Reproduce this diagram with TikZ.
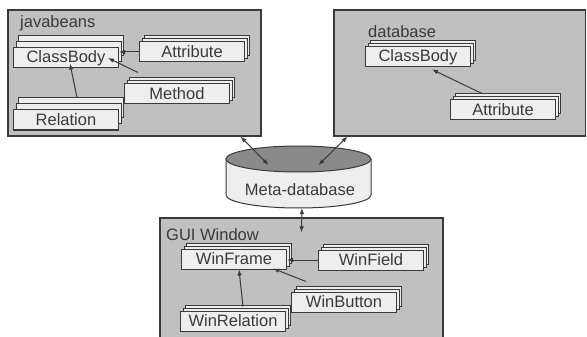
\documentclass[tikz,border=0pt]{standalone}
\usepackage{fontspec}
\setmainfont{Liberation Sans}
\usepackage{xcolor}
\definecolor{Col1}{RGB}{58,58,58}
\definecolor{Col2}{RGB}{192,192,192}
\definecolor{Col3}{RGB}{238,238,238}
\definecolor{Col4}{RGB}{138,138,138}
\usepackage{tikz}
\usetikzlibrary{shapes.geometric}
\usetikzlibrary{shadows}
\usetikzlibrary{arrows.meta}
\usetikzlibrary{calc}
\tikzstyle{Panel}=[rectangle,draw=Col1,fill=Col2,line width=1.2pt,inner sep=0pt]
\tikzstyle{Title}=[anchor=west,inner sep=0pt,text=Col1]
\tikzstyle{ItemBase}=[rectangle,draw=Col1,fill=Col3,line width=1pt,
minimum width=105pt,minimum height=20pt,inner sep=0pt,text=Col1]
\tikzstyle{Item}=[ItemBase,double copy shadow={shadow xshift=2.5pt,
    shadow yshift=3pt,draw=Col1,fill=Col3}]
\tikzstyle{ItemT}=[ItemBase,double copy shadow={shadow xshift=2.5pt,
    shadow yshift=6pt,draw=Col1,fill=Col3}]
\tikzstyle{StoreBody}=[draw=Col1,fill=Col3,line width=1pt]
\tikzstyle{StoreTop}=[ellipse,draw=Col1,fill=Col4,line width=1pt,
minimum width=145pt,minimum height=26pt,inner sep=0pt]
\tikzstyle{Link}=[draw=Col1,line width=1pt,-{Latex[length=6pt,width=4.5pt]}]
\tikzstyle{Link2}=[draw=Col1,line width=1pt,
{Latex[length=6pt,width=4.5pt]}-{Latex[length=6pt,width=4.5pt]}]

\begin{document}
\begin{tikzpicture}[x=1pt,y=1pt,font=\fontsize{16.5}{19}\selectfont]
        \useasboundingbox(0,0)rectangle(587,-337);
        \node[Panel,minimum width=253pt,minimum height=126pt](jb)
            at(134.5,-73){};
        \node[Panel,minimum width=251.5pt,minimum height=126pt](db)
            at(459.75,-73){};
        \node[Panel,minimum width=283pt,minimum height=124pt](gui)
            at(301.5,-280){};
        \node[Title](jbT)at(20,-23){javabeans};
        \node[Title](dbT)at(368,-32){database};
        \node[Title](guiT)at(166,-235){GUI Window};
        % javabeans
        \node[ItemT](cb1)at(66,-58){ClassBody};
        \node[Item](at1)at(192,-52){Attribute};
        \node[Item](me1)at(177,-94){Method};
        \node[ItemT](re1)at(66,-120){Relation};
        % database
        \node[Item](cb2)at(418,-57){ClassBody};
        \node[Item](at2)at(503,-110){Attribute};
        % GUI Window
        \node[Item](fr)at(234,-259){WinFrame};
        \node[Item](fd)at(371,-260){WinField};
        \node[Item](bt)at(344,-302){WinButton};
        \node[Item](rl)at(233,-321){WinRelation};
        % meta-database cylinder
        \path[StoreBody](226,-159)--(226,-195)
            arc[start angle=180,end angle=360,x radius=72.5,y radius=13]
            --(371,-159)--cycle;
        \node[StoreTop](top)at(298.5,-159){};
        \node[text=Col1](meta)at(300,-190){Meta-database};
        \coordinate(base)at(302,-208);
        \draw[Link](at1.west)--(at1.west-|cb1.east);
        \draw[Link]($(me1.north west)+(14,11)$)--($(cb1.east)+(-11,0)$);
        \draw[Link]($(re1.north)+(11,12)$)--($(cb1.south)+(4,5)$);
        \draw[Link]($(at2.north)+(-21,6)$)--($(cb2.south)+(14,-2)$);
        \draw[Link](fd.west)--(fd.west-|fr.east);
        \draw[Link]($(bt.north west)+(15,10)$)--($(fr.south east)+(-14,1)$);
        \draw[Link]($(rl.north)+(10,4)$)--($(fr.south)+(5,0)$);
        \draw[Link2]($(jb.south east)+(-21,0)$)--($(top.center)+(-30,-6)$);
        \draw[Link2]($(db.south west)+(14,0)$)--($(top.center)+(20,-6)$);
        \draw[Link2](base)--($(gui.north)+(0,-15)$);
    \end{tikzpicture}
\end{document}
